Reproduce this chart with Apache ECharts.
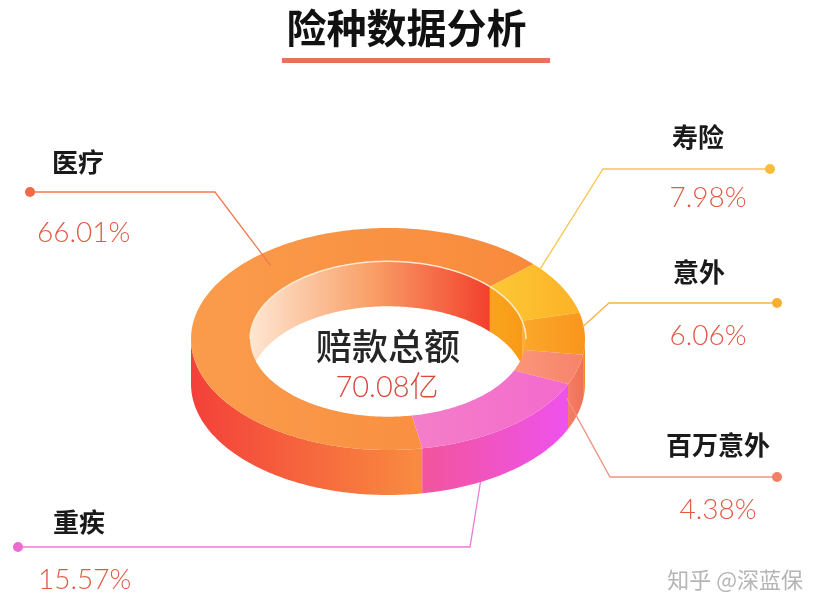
<!DOCTYPE html>
<html><head><meta charset="utf-8">
<script src="https://cdn.jsdelivr.net/npm/echarts@6/dist/echarts.min.js"></script>
<style>html,body{margin:0;padding:0;background:#fff}#c{width:813px;height:611px}</style>
</head><body><div id="c"></div>
<script>
// ---- data ----
const categories = ['医疗', '寿险', '意外', '百万意外', '重疾'];
const values = [66.01, 7.98, 6.06, 4.38, 15.57];
const titleText = '险种数据分析';
const centerTitle = '赔款总额';
const centerValue = '70.08亿';
const watermarkText = '知乎 @深蓝保';

// ---- styles / layout ----
const START_ANGLE = -80;      // degrees, clockwise from here
const INNER_R = 0.7;
const DEPTH = 45;             // px wall height
const topStyles = [
  ['#FA9C4C', '#F98A3C'],
  ['#FDC835', '#FBB226'],
  ['#FBA82A', '#F8961C'],
  ['#FB9679', '#F6836A'],
  ['#F47EC8', '#F36ACD']
];
const outerWallStyles = [
  ['#F3403A', '#F98C40'],
  ['#F5A020', '#F59020'],
  ['#F6961C', '#F38A18'],
  ['#F47E62', '#F0705A'],
  ['#F2559C', '#EE52EE']
];
const innerWallStyles = [
  ['#FEE6D2', '#F9A068', '#F2402C'],
  ['#F9A41C', '#F9A01A', '#F89A18'],
  ['#FAB640', '#FAAE38', '#F9A530'],
  ['#F88A6C', '#F78468', '#F67C62'],
  ['#F471C4', '#F268C6', '#F060C8']
];
const lineColors = ['#F27B52', '#F8C552', '#F5B448', '#F09282', '#EC7AD8'];
const dotColors = ['#F26A45', '#F9BC38', '#F7AE32', '#F37F66', '#EA6CD0'];
// anchor: [angleDeg, radius, extra px down]; elbow/end in px; name/pct positions in px
const labelLayout = [
  {anchor: [132, 0.89, 0], elbow: [215, 192], end: [30, 192], name: [52, 162, 'left'], pct: [37, 233, 'left']},
  {anchor: [39, 0.99, 0], elbow: [603, 169], end: [770, 169], name: [698, 137, 'center'], pct: [708, 198, 'center']},
  {anchor: [6, 0.99, 0], elbow: [609, 303], end: [777, 303], name: [699, 272, 'center'], pct: [708, 336, 'center']},
  {anchor: [-25, 1.0, 12], elbow: [610, 477], end: [777, 477], name: [718, 445, 'center'], pct: [718, 510, 'center']},
  {anchor: [-62, 1.0, 45], elbow: [470, 547], end: [18, 547], name: [53, 522, 'left'], pct: [38, 580, 'left']}
];

const total = values.reduce((a, b) => a + b, 0);
let acc = 0;
const seriesData = values.map((v, i) => {
  const d = [acc, acc + v, v];
  acc += v;
  return d;
});

function grad(c) {
  const stops = c.map((col, k) => ({offset: k / (c.length - 1), color: col}));
  return new echarts.graphic.LinearGradient(0, 0, 1, 0, stops);
}

function renderItem(params, api) {
  const i = params.dataIndex;
  const a0 = START_ANGLE - api.value(0) / total * 360;
  const a1 = START_ANGLE - api.value(1) / total * 360;
  const pt = (deg, r) => {
    const t = deg * Math.PI / 180;
    return api.coord([r * Math.cos(t), r * Math.sin(t)]);
  };
  const arc = (from, to, r) => {
    const n = Math.max(2, Math.ceil(Math.abs(to - from)));
    const pts = [];
    for (let k = 0; k <= n; k++) pts.push(pt(from + (to - from) * k / n, r));
    return pts;
  };
  const children = [];
  const lo = Math.min(a0, a1), hi = Math.max(a0, a1);
  for (let k = -2; k <= 1; k++) {
    // outer front wall
    let s = Math.max(lo, -180 + 360 * k), e = Math.min(hi, 360 * k);
    if (e > s) {
      const top = arc(s, e, 1);
      const bot = top.map(p => [p[0], p[1] + DEPTH]).reverse();
      children.push({type: 'polygon', z2: 1, shape: {points: top.concat(bot)},
        style: {fill: grad(outerWallStyles[i])}});
    }
    // inner back wall
    s = Math.max(lo, 360 * k); e = Math.min(hi, 180 + 360 * k);
    if (e > s) {
      const top = arc(s, e, INNER_R);
      const bot = top.map(p => [p[0], p[1] + DEPTH]).reverse();
      children.push({type: 'polygon', z2: 1, shape: {points: top.concat(bot)},
        style: {fill: grad(innerWallStyles[i])}});
      children.push({type: 'polyline', z2: 6, shape: {points: top},
        style: {stroke: 'rgba(255,238,215,0.9)', lineWidth: 1.5, fill: null}});
    }
  }
  // top face
  const outer = arc(a0, a1, 1);
  const inner = arc(a1, a0, INNER_R);
  children.push({type: 'polygon', z2: 5, shape: {points: outer.concat(inner)},
    style: {fill: grad(topStyles[i])}});

  // label
  const L = labelLayout[i];
  const ap = pt(L.anchor[0], L.anchor[1]);
  ap[1] += L.anchor[2];
  children.push({type: 'polyline', z2: 10, shape: {points: [ap, L.elbow, L.end]},
    style: {stroke: lineColors[i], lineWidth: 1.3, fill: null}});
  children.push({type: 'circle', z2: 11, shape: {cx: L.end[0], cy: L.end[1], r: 5},
    style: {fill: dotColors[i]}});
  children.push({type: 'text', z2: 11, style: {
    text: categories[i], x: L.name[0], y: L.name[1], align: L.name[2], verticalAlign: 'middle',
    fill: '#1a1a1a', font: 'bold 26px "Noto Sans CJK SC"'}});
  children.push({type: 'text', z2: 11, style: {
    text: (api.value(2) / total * 100).toFixed(2) + '%', x: L.pct[0], y: L.pct[1], align: L.pct[2],
    verticalAlign: 'middle', fill: '#E05A45', font: '300 28px Lato'}});
  return {type: 'group', children};
}

const chart = echarts.init(document.getElementById('c'));
chart.setOption({
  backgroundColor: '#ffffff',
  animation: false,
  grid: {left: 191, top: 228, width: 394, height: 222},
  xAxis: {type: 'value', min: -1, max: 1, show: false},
  yAxis: {type: 'value', min: -1, max: 1, show: false},
  series: [{
    type: 'custom',
    coordinateSystem: 'cartesian2d',
    silent: true,
    clip: false,
    renderItem,
    encode: {x: -1, y: -1},
    data: seriesData
  }],
  graphic: [
    {type: 'text', left: 'center', top: 8, style: {text: titleText, fill: '#111',
      font: 'bold 40px "Noto Sans CJK SC"'}},
    {type: 'rect', shape: {x: 282, y: 58, width: 268, height: 5}, style: {fill: '#E9705F'}},
    {type: 'text', z: 100, style: {text: centerTitle, x: 388, y: 346, align: 'center', verticalAlign: 'middle',
      fill: '#262626', font: '500 36px "Noto Sans CJK SC"'}},
    {type: 'text', z: 100, style: {text: centerValue, x: 387, y: 388, align: 'center', verticalAlign: 'middle',
      fill: '#D9483B', font: '300 29px Lato, "Noto Sans CJK SC"'}},
    {type: 'text', z: 100, style: {text: watermarkText, x: 803, y: 580, align: 'right', verticalAlign: 'middle',
      fill: '#B5B5B5', font: '22px "Noto Sans CJK SC"'}}
  ]
});
</script></body></html>
